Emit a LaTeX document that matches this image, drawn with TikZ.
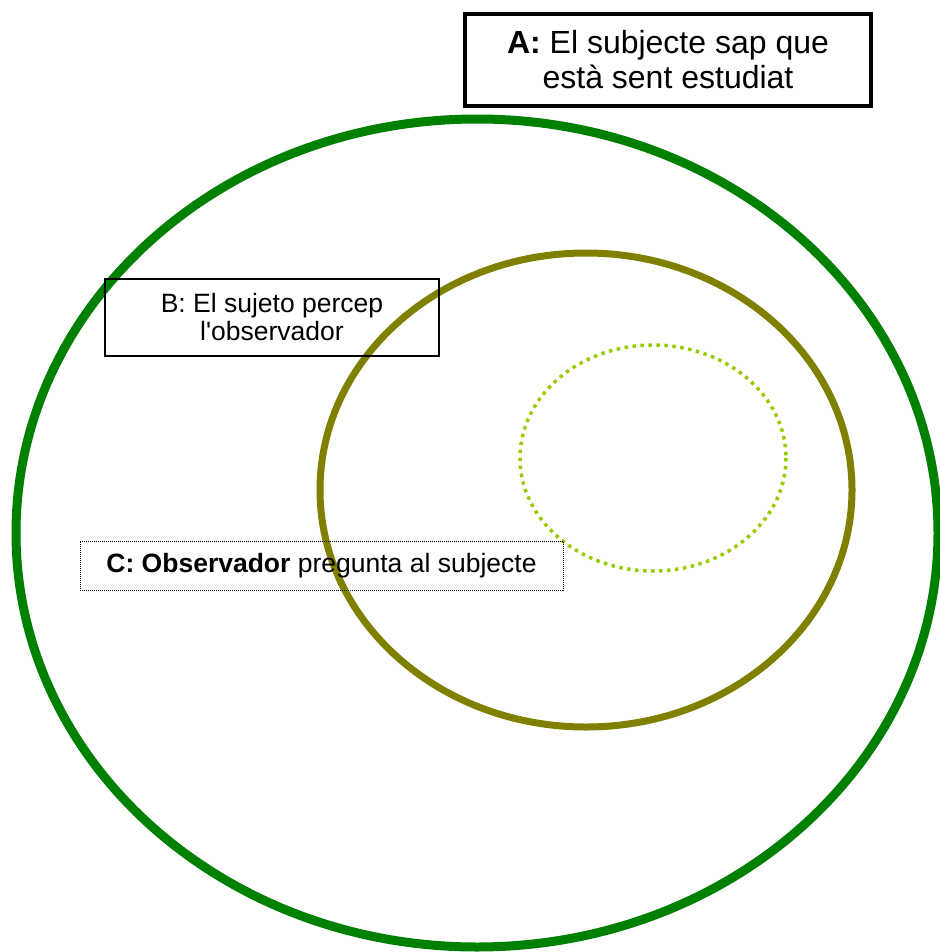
\documentclass[tikz,border=0pt]{standalone}
\usepackage{fontspec}
\setmainfont{Liberation Sans}[Ligatures=TeXOff]
\definecolor{outergreen}{HTML}{008000}
\definecolor{olivering}{HTML}{808000}
\definecolor{limering}{HTML}{99CC00}
\begin{document}
\begin{tikzpicture}[x=1pt,y=-1pt,
  labelbox/.style={draw=black, align=center, inner sep=0pt, outer sep=0pt}]
\useasboundingbox (0,0) rectangle (939,952);
\draw[line width=9pt, outergreen] (477,533) ellipse [x radius=461, y radius=414];
\draw[line width=7pt, olivering] (586,490) ellipse [x radius=266, y radius=237];
\draw[line width=3.5pt, limering, dash pattern=on 3.5pt off 4.5pt] (653,458) ellipse [x radius=133, y radius=113];
\node[labelbox, line width=3.5pt, minimum width=406pt, minimum height=92pt,
  font=\fontsize{32}{35}\selectfont] (a) at (668,60)
  {\textbf{A:} El subjecte sap que\\està sent estudiat};
\node[labelbox, line width=2pt, minimum width=334pt, minimum height=77pt,
  font=\fontsize{26.5}{28}\selectfont] (b) at (272,317.5)
  {B: El sujeto percep\\l'observador};
\node[labelbox, line width=0.9pt, dash pattern=on 1pt off 1pt, minimum width=483pt, minimum height=49pt,
  font=\fontsize{26.5}{28}\selectfont] (c) at (321.5,565.5)
  {\textbf{C: Observador} pregunta al subjecte};
\end{tikzpicture}
\end{document}
